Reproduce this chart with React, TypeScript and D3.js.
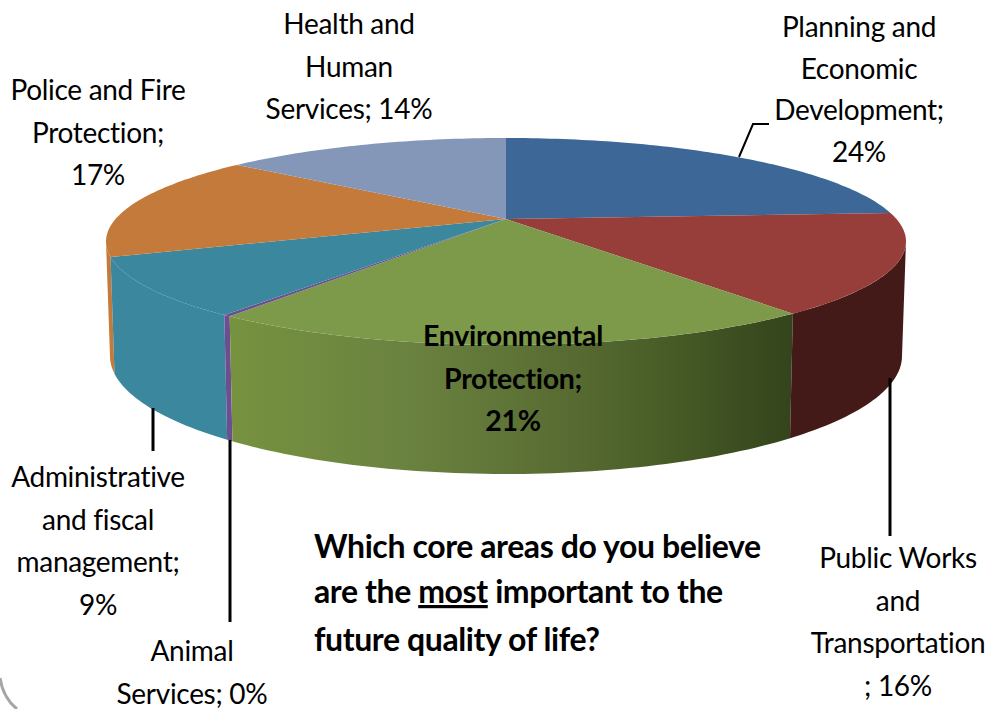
import React from "react";
import * as d3 from "d3";

const categories = ["Planning and Economic Development", "Public Works and Transportation", "Environmental Protection", "Animal Services", "Administrative and fiscal management", "Police and Fire Protection", "Health and Human Services"];
const values = [24.0, 15.6, 20.3, 0.25, 9.05, 16.5, 14.3];
const topColors = ["#3c6797", "#973e3b", "#7c9a4a", "#6b4f92", "#3a879e", "#c47a3a", "#8497b8"];
const wallColors = ["#2c4c70", "#431a17", "url(#greenWall)", "#6b4f92", "#3a879e", "#c47a3a", "#6f80a0"];
const greenStops: [number, string][] = [[0, "#77923f"], [0.3, "#6b8340"], [0.55, "#5c7035"], [0.8, "#465a26"], [1, "#34441c"]];

type Lab = { x: number; y: number; lines: string[]; bold?: boolean; gap?: number };
const labels: Lab[] = [
  { x: 349, y: 34, lines: ["Health and", "Human", "Services; 14%"] },
  { x: 859, y: 37, lines: ["Planning and", "Economic", "Development;", "24%"], gap: 41.5 },
  { x: 98, y: 100, lines: ["Police and Fire", "Protection;", "17%"] },
  { x: 98, y: 487, lines: ["Administrative", "and fiscal", "management;", "9%"] },
  { x: 192, y: 661, lines: ["Animal", "Services; 0%"] },
  { x: 898, y: 568, lines: ["Public Works", "and", "Transportation", "; 16%"] },
  { x: 513, y: 346, lines: ["Environmental", "Protection;", "21%"], bold: true },
];
const leaders: [number, number][][] = [
  [[739, 157], [753, 124], [769, 124]],
  [[153, 408], [153, 451]],
  [[230, 440], [230, 622]],
  [[890, 378], [890, 536]],
];

// Perspective projection of the pie's circle onto the page
const CX = 506, APEX_Y = 219, TOP_Y = 138, FRONT_Y = 345, RX = 400;
const K = (FRONT_Y - APEX_Y - (APEX_Y - TOP_Y)) / (FRONT_Y - TOP_Y);
const A = (APEX_Y - TOP_Y) * (1 + K);
const B = RX * Math.sqrt(1 - K * K);
const project = (t: number): [number, number] => {
  const u = Math.sin(t), v = -Math.cos(t), w = 1 - K * v;
  return [CX + (B * u) / w, APEX_Y + (A * v) / w];
};
const ELL_CY = (TOP_Y + FRONT_Y) / 2, ELL_RY = (FRONT_Y - TOP_Y) / 2;
const lowerX = d3.scaleLinear().domain([CX - RX, CX + RX]).range([CX - 396, CX + 396]);
const lowerY = d3.scaleLinear().domain([ELL_CY - ELL_RY, ELL_CY + ELL_RY]).range([356 - 118, 356 + 118]);
const lower = (p: [number, number]): [number, number] => [lowerX(p[0]), lowerY(p[1])];

const arcPts = (a: number, b: number) => {
  const n = Math.max(2, Math.ceil((b - a) / 0.02));
  return d3.range(n + 1).map((i) => project(a + ((b - a) * i) / n));
};
const lineGen = d3.line();
// the angles where the ellipse is widest bound the visible wall
const T_RIGHT = Math.atan2(Math.sqrt(1 - K * K), -K);
const T_LEFT = Math.PI * 2 - T_RIGHT;

export default function App() {
  const arcs = d3.pie<number>().sort(null)(values);
  const top = arcs.map((d) => lineGen([[CX, APEX_Y], ...arcPts(d.startAngle, d.endAngle)]) + "Z");
  const wall = arcs.map((d) => {
    const a = Math.max(d.startAngle, T_RIGHT), b = Math.min(d.endAngle, T_LEFT);
    if (b <= a) return null;
    const t = arcPts(a, b);
    return lineGen([...t, ...t.slice().reverse().map(lower)]) + "Z";
  });
  const font = "Lato, 'Noto Sans', sans-serif";
  return (
    <svg width={988} height={709} style={{ position: "absolute", left: 0, top: 0, background: "#fff" }} fontFamily={font}>
      <defs>
        <linearGradient id="greenWall" gradientUnits="userSpaceOnUse" x1={230} x2={790} y1={0} y2={0}>
          {greenStops.map(([o, c]) => <stop key={o} offset={o} stopColor={c} />)}
        </linearGradient>
      </defs>
      <path d="M0 678 Q3 698 17 709" fill="none" stroke="#a6a6a6" strokeWidth={3} />
      {[5, 4, 3, 2, 1].map((i) => wall[i] && <path key={categories[i]} d={wall[i]!} fill={wallColors[i]} />)}
      {top.map((d, i) => <path key={categories[i]} d={d} fill={topColors[i]} />)}
      {leaders.map((l, i) => <path key={i} d={lineGen(l)!} fill="none" stroke="#000" strokeWidth={i === 0 ? 2 : 3} />)}
      {labels.map((l) => (
        <text key={l.lines[0]} textAnchor="middle" fontSize={l.bold ? 28.5 : 28} fontWeight={l.bold ? 700 : 400} fill="#000" letterSpacing={-0.3}>
          {l.lines.map((s, i) => <tspan key={i} x={l.x} y={l.y + i * (l.gap ?? 42.5)}>{s}</tspan>)}
        </text>
      ))}
      <text fontSize={32} fontWeight={700} fill="#000" letterSpacing={-0.4}>
        <tspan x={314} y={558}>Which core areas do you believe</tspan>
        <tspan x={314} y={603}>are the <tspan textDecoration="underline">most</tspan> important to the</tspan>
        <tspan x={314} y={651}>future quality of life?</tspan>
      </text>
    </svg>
  );
}
